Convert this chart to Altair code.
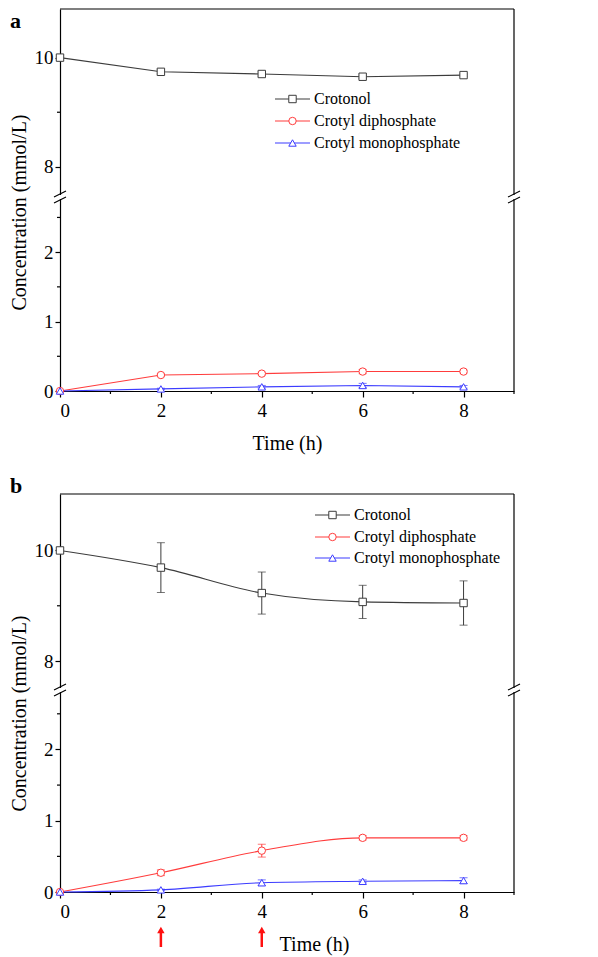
import altair as alt
import pandas as pd

# ---------------- data ----------------
TIME = [0, 2, 4, 6, 8]
SERIES = ["Crotonol", "Crotyl diphosphate", "Crotyl monophosphate"]
COLORS = ["#3c3c3c", "#ff3c3c", "#3c3cff"]
SHAPES = ["square", "circle", "triangle-up"]

A_CROTONOL = [10.0, 9.74, 9.70, 9.65, 9.68]
A_CROTONOL_ERR = [0.0, 0.04, 0.04, 0.03, 0.02]
A_DIPHOS = [0.0, 0.23, 0.25, 0.28, 0.28]
A_DIPHOS_ERR = [0.0, 0.02, 0.02, 0.03, 0.02]
A_MONO = [0.0, 0.03, 0.06, 0.08, 0.06]
A_MONO_ERR = [0.0, 0.01, 0.02, 0.03, 0.02]

B_CROTONOL = [10.0, 9.69, 9.23, 9.07, 9.05]
B_CROTONOL_ERR = [0.0, 0.45, 0.38, 0.30, 0.40]
B_DIPHOS = [0.0, 0.27, 0.58, 0.76, 0.76]
B_DIPHOS_ERR = [0.0, 0.04, 0.09, 0.03, 0.03]
B_MONO = [0.0, 0.03, 0.13, 0.15, 0.16]
B_MONO_ERR = [0.0, 0.01, 0.04, 0.02, 0.04]

ARROW_TIMES = [2, 4]
X_LABEL_TICKS = [0, 2, 4, 6, 8]
X_MINOR_TICKS = [1, 3, 5, 7, 9]
UP_LABEL_TICKS = [8, 10]
UP_MINOR_TICKS = [9]
LOW_LABEL_TICKS = [0, 1, 2]
LOW_MINOR_TICKS = [0.5, 1.5, 2.5]

X_TITLE = "Time (h)"
Y_TITLE = "Concentration (mmol/L)"

# ---------------- helpers ----------------
FONT = "Liberation Serif"
W = 454
ONE = pd.DataFrame({"k": [0]})
color_scale = alt.Scale(domain=SERIES, range=COLORS)
shape_scale = alt.Scale(domain=SERIES, range=SHAPES)
x_scale = alt.Scale(domain=[0, 9], nice=False, zero=False)
MSIZE = 55


def series_frame(vals_list, errs_list):
    rows = []
    for name, vals, errs in zip(SERIES, vals_list, errs_list):
        for t, v, e in zip(TIME, vals, errs):
            rows.append({"time": t, "value": v, "err": e, "series": name})
    return pd.DataFrame(rows)


def data_layers(df, yscale, yaxis, ytitle, xaxis, xtitle, interp):
    x = alt.X("time:Q", scale=x_scale, axis=xaxis, title=xtitle)
    line = alt.Chart(df).mark_line(strokeWidth=1.1, interpolate=interp).encode(
        x=x,
        y=alt.Y("value:Q", scale=yscale, axis=yaxis, title=ytitle),
        stroke=alt.Stroke("series:N", scale=color_scale, legend=None),
        detail="series:N",
    )
    eb = (
        alt.Chart(df[df["err"] > 0])
        .transform_calculate(lo="datum.value - datum.err", hi="datum.value + datum.err")
        .mark_errorbar(ticks=True, size=8, thickness=1)
        .encode(
            x=x,
            y=alt.Y("lo:Q", scale=yscale, axis=yaxis, title=ytitle),
            y2="hi:Q",
            color=alt.Color("series:N", scale=color_scale, legend=None),
        )
    )
    pts = alt.Chart(df).mark_point(filled=True, fill="white", size=MSIZE, strokeWidth=1, opacity=1).encode(
        x=x,
        y=alt.Y("value:Q", scale=yscale, axis=yaxis, title=ytitle),
        stroke=alt.Stroke("series:N", scale=color_scale, legend=None),
        shape=alt.Shape("series:N", scale=shape_scale, legend=None),
    )
    return [line, eb, pts]


def minor_y(vals, yscale, yaxis, ytitle):
    return alt.Chart(pd.DataFrame({"v": vals})).mark_rule(color="black", strokeWidth=1.2).encode(
        y=alt.Y("v:Q", scale=yscale, axis=yaxis, title=ytitle),
        x=alt.value(-3), x2=alt.value(0),
    )


def legend_layers(lx0, lx1, tx, ys):
    layers = []
    for name, yy in zip(SERIES, ys):
        d = pd.DataFrame({"series": [name]})
        layers.append(alt.Chart(d).mark_rule(strokeWidth=1.1).encode(
            x=alt.value(lx0), x2=alt.value(lx1), y=alt.value(yy),
            stroke=alt.Stroke("series:N", scale=color_scale, legend=None)))
        layers.append(alt.Chart(d).mark_point(filled=True, fill="white", size=MSIZE, strokeWidth=1, opacity=1).encode(
            x=alt.value((lx0 + lx1) / 2), y=alt.value(yy),
            stroke=alt.Stroke("series:N", scale=color_scale, legend=None),
            shape=alt.Shape("series:N", scale=shape_scale, legend=None)))
        layers.append(alt.Chart(d).mark_text(align="left", baseline="middle", font=FONT,
                                             fontSize=16, color="black").encode(
            x=alt.value(tx), y=alt.value(yy), text="series:N"))
    return layers


def break_marks():
    layers = []
    for bx in [0, W]:
        layers.append(alt.Chart(ONE).mark_rect(color="white").encode(
            x=alt.value(bx - 2), x2=alt.value(bx + 2), y=alt.value(-3), y2=alt.value(1)))
        for dy in [-4, 2]:
            layers.append(alt.Chart(ONE).mark_rule(color="black", strokeWidth=1.1).encode(
                x=alt.value(bx - 6), x2=alt.value(bx + 6), y=alt.value(dy + 3), y2=alt.value(dy - 3)))
    return layers


def panel(letter, df, up_dom, up_h, low_dom, low_h, leg, interp, arrows,
          time_title_xy, ytitle_y, letter_y):
    up_df = df[df["series"] == SERIES[0]]
    low_df = df[df["series"] != SERIES[0]]

    # ---- upper segment ----
    up_scale = alt.Scale(domain=up_dom, nice=False, zero=False)
    up_axis = alt.Axis(values=UP_LABEL_TICKS, tickSize=5, labelPadding=2, grid=False)
    up_layers = data_layers(up_df, up_scale, up_axis, None, None, None, interp)
    up_layers.append(minor_y(UP_MINOR_TICKS, up_scale, up_axis, None))
    up_layers.append(alt.Chart(ONE).mark_rule(color="black", strokeWidth=1.2).encode(
        x=alt.value(0), x2=alt.value(W), y=alt.value(0)))
    up_layers.append(alt.Chart(ONE).mark_rule(color="black", strokeWidth=1.2).encode(
        x=alt.value(W), y=alt.value(0), y2=alt.value(up_h)))
    up_layers += legend_layers(*leg)
    up_layers.append(alt.Chart(pd.DataFrame({"label": [letter]})).mark_text(
        font=FONT, fontSize=22, fontWeight="bold", align="left", baseline="top", color="black").encode(
        x=alt.value(-50), y=alt.value(letter_y), text="label:N"))
    upper = alt.layer(*up_layers).properties(width=W, height=up_h)

    # ---- lower segment ----
    low_scale = alt.Scale(domain=low_dom, nice=False, zero=False)
    low_axis = alt.Axis(values=LOW_LABEL_TICKS, tickSize=5, labelPadding=2, grid=False,
                        titleX=-41, titleY=ytitle_y, titleAngle=270, titleAlign="center",
                        titleBaseline="middle")
    x_axis = alt.Axis(values=X_LABEL_TICKS, tickSize=6, labelPadding=4, grid=False,
                      titleX=time_title_xy[0], titleY=time_title_xy[1], titleAlign="center",
                      titleBaseline="middle")
    low_layers = data_layers(low_df, low_scale, low_axis, Y_TITLE, x_axis, X_TITLE, interp)
    low_layers.append(minor_y(LOW_MINOR_TICKS, low_scale, low_axis, Y_TITLE))
    low_layers.append(alt.Chart(pd.DataFrame({"v": X_MINOR_TICKS})).mark_rule(
        color="black", strokeWidth=1.2).encode(
        x=alt.X("v:Q", scale=x_scale, axis=x_axis, title=X_TITLE),
        y=alt.value(low_h), y2=alt.value(low_h + 3)))
    low_layers.append(alt.Chart(ONE).mark_rule(color="black", strokeWidth=1.2).encode(
        x=alt.value(W), y=alt.value(0), y2=alt.value(low_h)))
    low_layers += break_marks()
    if arrows:
        adf = pd.DataFrame({"t": ARROW_TIMES})
        ax = alt.X("t:Q", scale=x_scale, axis=x_axis, title=X_TITLE)
        low_layers.append(alt.Chart(adf).mark_rule(color="#ff1010", strokeWidth=2.5).encode(
            x=ax, y=alt.value(low_h + 38), y2=alt.value(low_h + 55)))
        low_layers.append(alt.Chart(adf).mark_point(shape="triangle-up", filled=True, color="#ff1010",
                                                    size=55, opacity=1).encode(
            x=ax, y=alt.value(low_h + 38)))
    lower = alt.layer(*low_layers).properties(width=W, height=low_h)

    return upper, lower


df_a = series_frame([A_CROTONOL, A_DIPHOS, A_MONO], [A_CROTONOL_ERR, A_DIPHOS_ERR, A_MONO_ERR])
df_b = series_frame([B_CROTONOL, B_DIPHOS, B_MONO], [B_CROTONOL_ERR, B_DIPHOS_ERR, B_MONO_ERR])

a_up, a_low = panel("a", df_a, [7.43, 10.89], 189, [0, 2.78], 193,
                    (215, 250, 254, [90, 112, 134]), "linear", False, (227, 52), 14, 2)
b_up, b_low = panel("b", df_b, [7.46, 11.02], 197, [0, 2.82], 201,
                    (255, 290, 294, [21, 43, 64]), "monotone", True, (254, 52), 22, -18)

spacer = alt.Chart(ONE).mark_point(opacity=0).encode(
    x=alt.value(0), y=alt.value(0)).properties(width=W, height=103)

chart = (
    alt.vconcat(a_up, a_low, spacer, b_up, b_low, spacing=0, bounds="flush")
    .properties(padding={"left": 0, "top": 0, "right": 4, "bottom": 2})
    .configure_view(stroke=None)
    .configure_axis(labelFont=FONT, titleFont=FONT, labelFontSize=19, titleFontSize=20,
                    titleFontWeight="normal", labelColor="black", titleColor="black",
                    domainColor="black", tickColor="black", domainWidth=1.2, tickWidth=1.2,
                    grid=False)
)

chart.save("out.html", embed_options={"renderer": "svg", "actions": False})
